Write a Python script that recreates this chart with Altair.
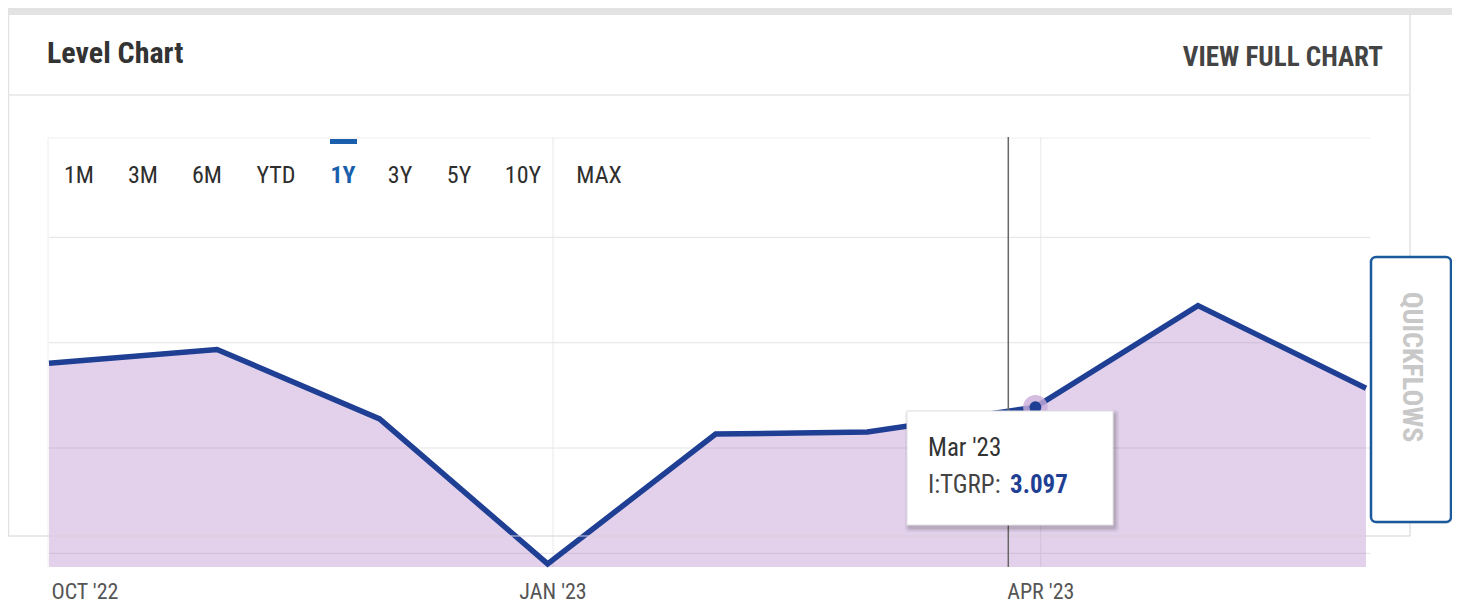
import altair as alt
import pandas as pd

# ---------------- data ----------------
DATES = ["2022-09-30", "2022-10-31", "2022-11-30", "2022-12-31", "2023-01-31",
         "2023-02-28", "2023-03-31", "2023-04-30", "2023-05-31"]
VALUES = [3.201, 3.234, 3.069, 2.725, 3.033, 3.038, 3.097, 3.338, 3.142]
MONTHS = ["Sep '22", "Oct '22", "Nov '22", "Dec '22", "Jan '23",
          "Feb '23", "Mar '23", "Apr '23", "May '23"]
GRID_VALUES = [3.5, 3.25, 3.0, 2.75]
TICK_DATES = ["2022-10-01", "2023-01-01", "2023-04-01"]
TICK_LABELS = ["OCT '22", "JAN '23", "APR '23"]
RANGE_BUTTONS = ["1M", "3M", "6M", "YTD", "1Y", "3Y", "5Y", "10Y", "MAX"]
SELECTED = "1Y"
SERIES = "I:TGRP"
HOVER = "Mar '23"
CROSSHAIR = (2023, 3, 26)
Y_BASE = 2.7175
Y_TOP = 3.75

# ---------------- layout / style ----------------
W, H = 1444, 595
X_RANGE = [41, 1358]
Y_RANGE = [559, 124.1]
BUTTON_X = [71, 135, 199, 268, 335, 392, 451, 515, 591]
FONT = "Liberation Sans Narrow, Roboto Condensed, DejaVu Sans Condensed, Arial Narrow, sans-serif"
LINE_C = "#1f3f94"
AREA_C = "#9b59b6"

df = pd.DataFrame({"date": DATES, "value": VALUES, "month": MONTHS})
hover_df = df[df["month"] == HOVER]

xs = alt.Scale(type="utc",
               domain=[alt.DateTime(year=2022, month=9, date=30, utc=True),
                       alt.DateTime(year=2023, month=5, date=31, utc=True)],
               range=X_RANGE)
ys = alt.Scale(domain=[Y_BASE, Y_TOP], range=Y_RANGE, zero=False, nice=False)

X = lambda: alt.X("date:T", scale=xs, axis=None)
Y = lambda: alt.Y("value:Q", scale=ys, axis=None)

def deco_text(t, x, y, **kw):
    return alt.Chart(pd.DataFrame({"t": [t]})).mark_text(font=FONT, **kw).encode(
        text="t:N", x=alt.value(x), y=alt.value(y))

def deco_rect(x, x2, y, y2, **kw):
    return alt.Chart(pd.DataFrame({"a": [0]})).mark_rect(**kw).encode(
        x=alt.value(x), x2=alt.value(x2), y=alt.value(y), y2=alt.value(y2))

def deco_rule(x, x2, y, y2, **kw):
    return alt.Chart(pd.DataFrame({"a": [0]})).mark_rule(**kw).encode(
        x=alt.value(x), x2=alt.value(x2), y=alt.value(y), y2=alt.value(y2))

layers = []
# card frame
layers.append(deco_rect(0, W, 0, 7, color="#e3e3e3"))
layers.append(deco_rule(0.5, 0.5, 7, 528, color="#e2e2e2", strokeWidth=1.5))
layers.append(deco_rule(1402, 1402, 7, 528, color="#e2e2e2", strokeWidth=1.5))
layers.append(deco_rule(0, 1402, 87, 87, color="#e6e6e6", strokeWidth=1.5))
layers.append(deco_rule(40, 1362, 130, 130, color="#eeeeee", strokeWidth=1))
layers.append(deco_rule(40, 40, 130, 559, color="#eeeeee", strokeWidth=1))

# horizontal gridlines
grid_df = pd.DataFrame({"value": GRID_VALUES})
layers.append(alt.Chart(grid_df).mark_rule(color="#e4e4e4", strokeWidth=1).encode(
    y=Y(), x=alt.value(X_RANGE[0]), x2=alt.value(X_RANGE[1] + 4)))
# vertical gridlines
tick_df = pd.DataFrame({"date": TICK_DATES, "label": TICK_LABELS})
layers.append(alt.Chart(tick_df.iloc[1:]).mark_rule(color="#e8e8e8", strokeWidth=1).encode(
    x=X(), y=alt.value(129), y2=alt.value(559)))

# area + line
layers.append(alt.Chart(df).mark_area(color=AREA_C, opacity=0.28).encode(
    x=X(), y=Y(), y2=alt.Y2(datum=Y_BASE)))
layers.append(alt.Chart(df).mark_line(color=LINE_C, strokeWidth=5.5).encode(x=X(), y=Y()))

# bottom card border (over the area)
layers.append(deco_rule(0, 1402, 528, 528, color="#d8d0dc", strokeWidth=1.2))

# crosshair
layers.append(alt.Chart(pd.DataFrame({"a": [0]})).mark_rule(color="#666666", strokeWidth=1.5).encode(
    x=alt.X(datum=alt.DateTime(year=CROSSHAIR[0], month=CROSSHAIR[1], date=CROSSHAIR[2], utc=True),
            scale=xs, axis=None),
    y=alt.value(129), y2=alt.value(559)))

# hover halo + dot
layers.append(alt.Chart(hover_df).mark_circle(color="#c9acd9", opacity=0.8, size=600).encode(x=X(), y=Y()))
layers.append(alt.Chart(hover_df).mark_circle(color=LINE_C, opacity=1, size=140).encode(x=X(), y=Y()))

# tooltip box
for off, op in [(4, 0.05), (2.5, 0.07), (1, 0.08)]:
    layers.append(deco_rect(899 - off + 2, 1105 + off + 2, 403 - off + 3, 517 + off + 3,
                            color="#000000", opacity=op, cornerRadius=3))
layers.append(deco_rect(899, 1105, 403, 517, color="#ffffff", stroke="#e2e2e2", strokeWidth=1))
layers.append(alt.Chart(hover_df).mark_text(font=FONT, fontSize=25, color="#333333",
                                            align="left", baseline="middle").encode(
    text="month:N", x=alt.value(920), y=alt.value(440)))
layers.append(deco_text(SERIES + ":", 920, 477, fontSize=25, color="#444444",
                        align="left", baseline="middle"))
layers.append(alt.Chart(hover_df).mark_text(font=FONT, fontSize=25, fontWeight="bold", color=LINE_C,
                                            align="left", baseline="middle").encode(
    text=alt.Text("value:Q", format=".3f"), x=alt.value(1002), y=alt.value(477)))

# x-axis labels
layers.append(alt.Chart(tick_df.iloc[:1]).mark_text(font=FONT, fontSize=22, color="#555555",
                                                    align="left", baseline="middle", dx=-3).encode(
    x=X(), y=alt.value(584), text="label:N"))
layers.append(alt.Chart(tick_df.iloc[1:]).mark_text(font=FONT, fontSize=22, color="#555555",
                                                    align="center", baseline="middle").encode(
    x=X(), y=alt.value(584), text="label:N"))

# range buttons
for lab, bx in zip(RANGE_BUTTONS, BUTTON_X):
    sel = lab == SELECTED
    layers.append(deco_text(lab, bx, 168, fontSize=24, align="center", baseline="middle",
                            color="#1a5fad" if sel else "#2e2e2e",
                            fontWeight="bold" if sel else "normal"))
layers.append(deco_rect(322, 349, 131, 136, color="#1a5fad"))

# header
layers.append(deco_text("Level Chart", 39, 46, fontSize=30, fontWeight="bold", color="#333333",
                        align="left", baseline="middle"))
layers.append(deco_text("VIEW FULL CHART", 1375, 50, fontSize=27, fontWeight="bold", color="#444444",
                        align="right", baseline="middle"))

# quickflows tab
layers.append(deco_rect(1365, 1445, 251, 516, color="#000000", opacity=0.06, cornerRadius=6))
layers.append(deco_rect(1363, 1443, 249, 514, color="#ffffff", stroke="#1a5a9c", strokeWidth=2.5,
                        cornerRadius=5))
layers.append(deco_text("QUICKFLOWS", 1403, 359, fontSize=28, fontWeight="bold", color="#c8c8c8",
                        align="center", baseline="middle", angle=90))

chart = alt.layer(*layers).properties(
    width=W, height=H, padding=0, autosize=alt.AutoSizeParams(type="none")
).configure_view(stroke=None)

chart.save("out.html", embed_options={"renderer": "svg", "actions": False})
